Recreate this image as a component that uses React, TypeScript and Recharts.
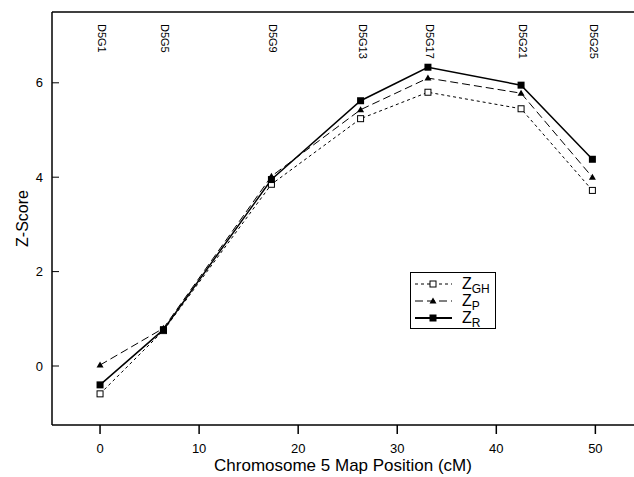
import {
  LineChart,
  Line,
  XAxis,
  YAxis,
  Legend,
  ReferenceLine
} from 'recharts';

const markers = ['D5G1', 'D5G5', 'D5G9', 'D5G13', 'D5G17', 'D5G21', 'D5G25'];
const positions = [0, 6.4, 17.3, 26.3, 33.1, 42.5, 49.7];
const zGH = [-0.59, 0.75, 3.85, 5.24, 5.8, 5.45, 3.72];
const zP = [0.02, 0.8, 4.02, 5.43, 6.1, 5.78, 4.0];
const zR = [-0.4, 0.77, 3.95, 5.62, 6.33, 5.95, 4.38];
const xTicks = [0, 10, 20, 30, 40, 50];
const yTicks = [0, 2, 4, 6];

const data = positions.map((pos, i) => ({
  pos,
  zGH: zGH[i],
  zP: zP[i],
  zR: zR[i]
}));

const FONT = '"Liberation Sans", Arial, sans-serif';

const OpenSquare = ({ cx, cy }: any) => (
  <rect x={cx - 3} y={cy - 3} width={6} height={6} fill='#fff' stroke='#000' strokeWidth={1} />
);
const Triangle = ({ cx, cy }: any) => (
  <path d={`M${cx},${cy - 3.5} L${cx + 3.5},${cy + 2.5} L${cx - 3.5},${cy + 2.5} Z`} fill='#000' />
);
const FilledSquare = ({ cx, cy }: any) => (
  <rect x={cx - 3.5} y={cy - 3.5} width={7} height={7} fill='#000' />
);

// y ticks point into the plot, labels stay outside
const YTick = ({ x, y, payload }: any) => (
  <g>
    <line x1={x} x2={x + 7} y1={y} y2={y} stroke='#000' strokeWidth={1} />
    <text
      x={x - 9}
      y={y}
      textAnchor='end'
      dominantBaseline='central'
      fontSize={13}
      fontFamily={FONT}
      fill='#000'
    >
      {payload.value}
    </text>
  </g>
);

// rotated marker names along the top of the plot
const MarkerLabel = ({ viewBox, text }: any) => {
  const x = viewBox.x + 2;
  const y = viewBox.y + 12;
  return (
    <text
      x={x}
      y={y}
      transform={`rotate(90, ${x}, ${y})`}
      fontSize={11}
      fontFamily={FONT}
      fill='#000'
      dominantBaseline='central'
    >
      {text}
    </text>
  );
};

const LegendBox = () => {
  const rows = [
    { sub: 'GH', dash: '3 3', width: 1, Mark: OpenSquare },
    { sub: 'P', dash: '8 4', width: 1, Mark: Triangle },
    { sub: 'R', dash: undefined, width: 2, Mark: FilledSquare }
  ];
  return (
    <svg width={86} height={57} style={{ display: 'block' }}>
      <rect x={0.5} y={0.5} width={85} height={56} fill='#fff' stroke='#000' />
      {rows.map((r, i) => {
        const y = 12 + i * 17;
        return (
          <g key={r.sub}>
            <line x1={5} x2={42} y1={y} y2={y} stroke='#000' strokeWidth={r.width} strokeDasharray={r.dash} />
            <r.Mark cx={23} cy={y} />
            <text x={52} y={y + 5} fontSize={16} fontFamily={FONT} fill='#000'>
              Z
              <tspan fontSize={12} dy={4}>{r.sub}</tspan>
            </text>
          </g>
        );
      })}
    </svg>
  );
};

export default function App() {
  return (
    <div style={{ position: 'absolute', left: 0, top: 0, background: '#fff' }}>
      <LineChart
        width={634}
        height={477}
        data={data}
        margin={{ top: 12, right: 0, bottom: 0, left: 0 }}
      >
        <XAxis
          type='number'
          dataKey='pos'
          domain={[-4.85, 53.9]}
          ticks={xTicks}
          allowDataOverflow
          height={52}
          stroke='#000'
          strokeWidth={1.5}
          tickSize={9}
          tickMargin={10}
          tick={{ fill: '#000', fontSize: 13, fontFamily: FONT }}
          label={{
            value: 'Chromosome 5 Map Position (cM)',
            position: 'insideBottom',
            offset: 6,
            fill: '#000',
            fontSize: 17,
            fontFamily: FONT
          }}
        />
        <YAxis
          type='number'
          domain={[-1.25, 7.5]}
          ticks={yTicks}
          allowDataOverflow
          width={52}
          stroke='#000'
          strokeWidth={1.5}
          tickLine={false}
          tickSize={0}
          tickMargin={0}
          tick={<YTick />}
          label={{
            value: 'Z-Score',
            angle: -90,
            position: 'insideLeft',
            offset: 22,
            style: { textAnchor: 'middle' },
            fill: '#000',
            fontSize: 16,
            fontFamily: FONT
          }}
        />
        <ReferenceLine y={7.5} stroke='#000' strokeWidth={1.5} />
        {markers.map((m, i) => (
          <ReferenceLine
            key={m}
            x={positions[i]}
            stroke='none'
            label={<MarkerLabel text={m} />}
          />
        ))}
        <Legend
          layout='vertical'
          align='center'
          verticalAlign='middle'
          wrapperStyle={{ left: 410, top: 272, width: 86, height: 57 }}
          content={() => <LegendBox />}
        />
        <Line
          dataKey='zGH'
          stroke='#000'
          strokeWidth={1}
          strokeDasharray='3 3'
          dot={(p: any) => <OpenSquare key={p.index} cx={p.cx} cy={p.cy} />}
          isAnimationActive={false}
        />
        <Line
          dataKey='zP'
          stroke='#000'
          strokeWidth={1}
          strokeDasharray='8 4'
          dot={(p: any) => <Triangle key={p.index} cx={p.cx} cy={p.cy} />}
          isAnimationActive={false}
        />
        <Line
          dataKey='zR'
          stroke='#000'
          strokeWidth={1.5}
          dot={(p: any) => <FilledSquare key={p.index} cx={p.cx} cy={p.cy} />}
          isAnimationActive={false}
        />
      </LineChart>
    </div>
  );
}
